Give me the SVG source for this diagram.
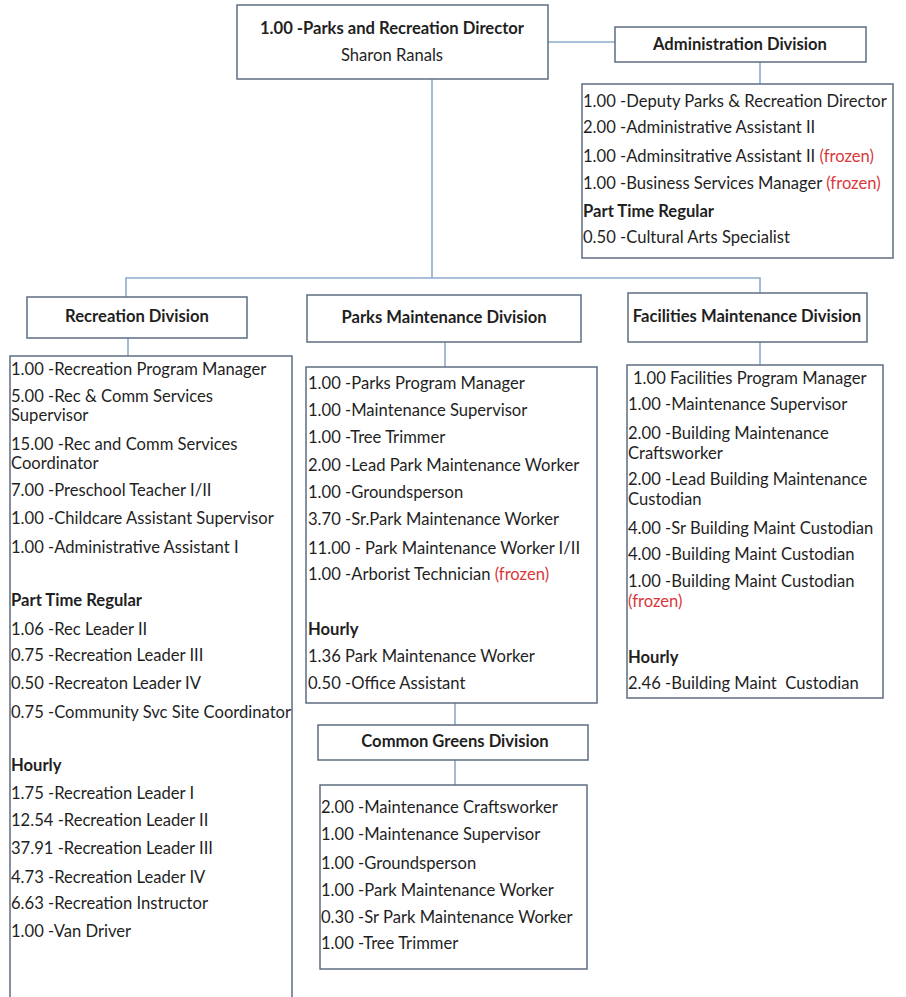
<svg xmlns="http://www.w3.org/2000/svg" width="906" height="997" viewBox="0 0 906 997">
  <style>
    .box { fill: #ffffff; stroke: #5d6d82; stroke-width: 1.5; }
    .conn { fill: none; stroke: #8eaacb; stroke-width: 1.6; }
    text { font-family: Lato, "Liberation Sans", sans-serif; font-size: 16.6px; fill: #1f1f1f; }
    .b { font-weight: bold; }
    .mid { text-anchor: middle; }
    .fz { fill: #d8383c; }
  </style>
  <rect width="906" height="997" fill="#ffffff"/>

  <!-- connectors -->
  <g id="connectors">
    <line class="conn" x1="548" y1="42" x2="615" y2="42"/>
    <line class="conn" x1="760" y1="62" x2="760" y2="84"/>
    <line class="conn" x1="432" y1="79" x2="432" y2="278"/>
    <polyline class="conn" points="126,297 126,278 760,278 760,293"/>
    <line class="conn" x1="128" y1="338" x2="128" y2="356"/>
    <line class="conn" x1="445" y1="342" x2="445" y2="367"/>
    <line class="conn" x1="760" y1="342" x2="760" y2="365"/>
    <line class="conn" x1="455" y1="703" x2="455" y2="725"/>
    <line class="conn" x1="455" y1="760" x2="455" y2="785"/>
  </g>

  <!-- director -->
  <g id="director">
    <rect class="box" x="237" y="5" width="311" height="74"/>
    <text class="b mid" x="392" y="34">1.00 -Parks and Recreation Director</text>
    <text class="mid" x="392" y="61">Sharon Ranals</text>
  </g>

  <!-- administration -->
  <g id="admin-division">
    <rect class="box" x="615" y="27" width="251" height="35"/>
    <text class="b mid" x="740" y="50">Administration Division</text>
  </g>
  <g id="admin-staff">
    <rect class="box" x="582" y="84" width="311" height="174"/>
    <text x="583" y="107">1.00 -Deputy Parks &amp; Recreation Director</text>
    <text x="583" y="133">2.00 -Administrative Assistant II</text>
    <text x="583" y="162">1.00 -Adminsitrative Assistant II <tspan class="fz">(frozen)</tspan></text>
    <text x="583" y="189">1.00 -Business Services Manager <tspan class="fz">(frozen)</tspan></text>
    <text class="b" x="583" y="217">Part Time Regular</text>
    <text x="583" y="243">0.50 -Cultural Arts Specialist</text>
  </g>

  <!-- recreation -->
  <g id="recreation-division">
    <rect class="box" x="27" y="297" width="220" height="41"/>
    <text class="b mid" x="137" y="322">Recreation Division</text>
  </g>
  <g id="recreation-staff">
    <rect class="box" x="10" y="356" width="282" height="660"/>
    <text x="11" y="375">1.00 -Recreation Program Manager</text>
    <text x="11" y="402">5.00 -Rec &amp; Comm Services</text>
    <text x="11" y="421">Supervisor</text>
    <text x="11" y="450">15.00 -Rec and Comm Services</text>
    <text x="11" y="469">Coordinator</text>
    <text x="11" y="496">7.00 -Preschool Teacher I/II</text>
    <text x="11" y="524">1.00 -Childcare Assistant Supervisor</text>
    <text x="11" y="553">1.00 -Administrative Assistant I</text>
    <text class="b" x="11" y="606">Part Time Regular</text>
    <text x="11" y="635">1.06 -Rec Leader II</text>
    <text x="11" y="661">0.75 -Recreation Leader III</text>
    <text x="11" y="689">0.50 -Recreaton Leader IV</text>
    <text x="11" y="718">0.75 -Community Svc Site Coordinator</text>
    <text class="b" x="11" y="771">Hourly</text>
    <text x="11" y="799">1.75 -Recreation Leader I</text>
    <text x="11" y="826">12.54 -Recreation Leader II</text>
    <text x="11" y="854">37.91 -Recreation Leader III</text>
    <text x="11" y="883">4.73 -Recreation Leader IV</text>
    <text x="11" y="909">6.63 -Recreation Instructor</text>
    <text x="11" y="937">1.00 -Van Driver</text>
  </g>

  <!-- parks maintenance -->
  <g id="parks-division">
    <rect class="box" x="307" y="295" width="274" height="47"/>
    <text class="b mid" x="444" y="323">Parks Maintenance Division</text>
  </g>
  <g id="parks-staff">
    <rect class="box" x="306" y="367" width="291" height="336"/>
    <text x="308" y="389">1.00 -Parks Program Manager</text>
    <text x="308" y="416">1.00 -Maintenance Supervisor</text>
    <text x="308" y="443">1.00 -Tree Trimmer</text>
    <text x="308" y="471">2.00 -Lead Park Maintenance Worker</text>
    <text x="308" y="498">1.00 -Groundsperson</text>
    <text x="308" y="525">3.70 -Sr.Park Maintenance Worker</text>
    <text x="308" y="554">11.00 - Park Maintenance Worker I/II</text>
    <text x="308" y="580">1.00 -Arborist Technician <tspan class="fz">(frozen)</tspan></text>
    <text class="b" x="308" y="635">Hourly</text>
    <text x="308" y="662">1.36 Park Maintenance Worker</text>
    <text x="308" y="689">0.50 -Office Assistant</text>
  </g>

  <!-- common greens -->
  <g id="greens-division">
    <rect class="box" x="318" y="725" width="270" height="35"/>
    <text class="b mid" x="455" y="747">Common Greens Division</text>
  </g>
  <g id="greens-staff">
    <rect class="box" x="320" y="785" width="267" height="184"/>
    <text x="321" y="813">2.00 -Maintenance Craftsworker</text>
    <text x="321" y="840">1.00 -Maintenance Supervisor</text>
    <text x="321" y="869">1.00 -Groundsperson</text>
    <text x="321" y="896">1.00 -Park Maintenance Worker</text>
    <text x="321" y="923">0.30 -Sr Park Maintenance Worker</text>
    <text x="321" y="949">1.00 -Tree Trimmer</text>
  </g>

  <!-- facilities maintenance -->
  <g id="facilities-division">
    <rect class="box" x="628" y="293" width="239" height="49"/>
    <text class="b mid" x="747" y="322">Facilities Maintenance Division</text>
  </g>
  <g id="facilities-staff">
    <rect class="box" x="627" y="365" width="256" height="333"/>
    <text x="633" y="384">1.00 Facilities Program Manager</text>
    <text x="628" y="410">1.00 -Maintenance Supervisor</text>
    <text x="628" y="439">2.00 -Building Maintenance</text>
    <text x="628" y="459">Craftsworker</text>
    <text x="628" y="485">2.00 -Lead Building Maintenance</text>
    <text x="628" y="505">Custodian</text>
    <text x="628" y="534">4.00 -Sr Building Maint Custodian</text>
    <text x="628" y="560">4.00 -Building Maint Custodian</text>
    <text x="628" y="587">1.00 -Building Maint Custodian</text>
    <text class="fz" x="628" y="607">(frozen)</text>
    <text class="b" x="628" y="663">Hourly</text>
    <text x="628" y="689">2.46 -Building Maint&#160; Custodian</text>
  </g>
</svg>
